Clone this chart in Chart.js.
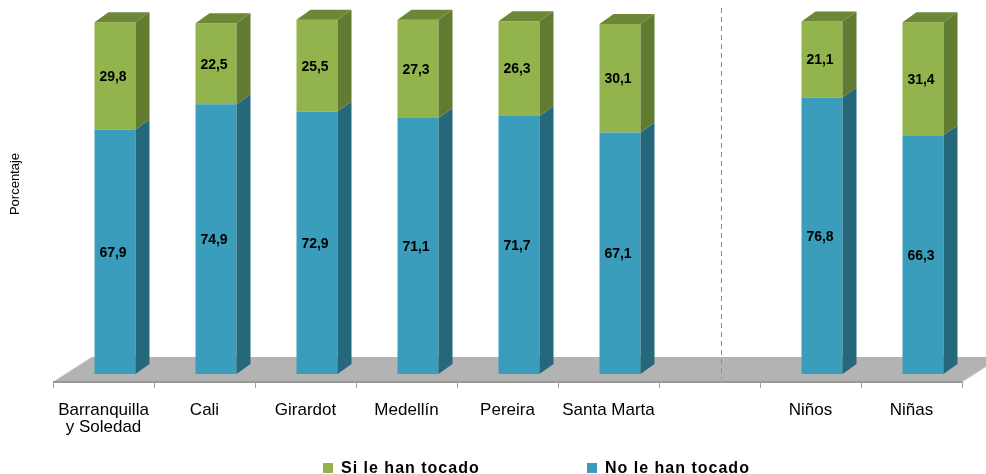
<!DOCTYPE html>
<html>
<head>
<meta charset="utf-8">
<script src="https://cdn.jsdelivr.net/npm/chart.js@4.4.1/dist/chart.umd.min.js"></script>
<style>
  body { margin: 0; background: #fff; }
  canvas { display: block; }
</style>
</head>
<body>
<canvas id="chart" width="986" height="474"></canvas>
<script>
// categories (the empty one is the gap before the dashed separator)
const labels = [['Barranquilla', 'y Soledad'], 'Cali', 'Girardot', 'Medellín', 'Pereira', 'Santa Marta', '', 'Niños', 'Niñas'];
const noTocado = [67.9, 74.9, 72.9, 71.1, 71.7, 67.1, null, 76.8, 66.3];
const siTocado = [29.8, 22.5, 25.5, 27.3, 26.3, 30.1, null, 21.1, 31.4];
const separatorIndex = 6;

const BLUE = '#3a9dbb', BLUE_SIDE = '#26687b';
const GREEN = '#93b44c', GREEN_SIDE = '#617b31', GREEN_TOP = '#6b8737';

// depth of a bar and of the floor (pixels)
const barDX = 14, barDY = 10;
const floorDX = 39, floorDY = 25;
const frontDX = -11.5, frontDY = 8;   // floor front edge relative to bar front

const fontFam = '"Liberation Sans", Arial, sans-serif';

function fmt(v) {
    return v.toFixed(1).replace('.', ',');
}

const threeD = {
    id: 'threeD',
    beforeDatasetsDraw(chart) {
        const ctx = chart.ctx;
        const area = chart.chartArea;
        const xs = chart.scales.x;
        const slot = xs.width / labels.length;
        const fy = area.bottom + frontDY;
        const fl = area.left + frontDX, fr = area.right + frontDX;
        ctx.save();
        // floor
        ctx.fillStyle = '#b3b3b3';
        ctx.beginPath();
        ctx.moveTo(fl, fy);
        ctx.lineTo(fr, fy);
        ctx.lineTo(fr + floorDX, fy - floorDY);
        ctx.lineTo(fl + floorDX, fy - floorDY);
        ctx.closePath();
        ctx.fill();
        ctx.strokeStyle = '#d0d0d0';
        ctx.lineWidth = 1;
        ctx.beginPath();
        ctx.moveTo(fl, fy);
        ctx.lineTo(fl + floorDX, fy - floorDY);
        ctx.moveTo(fr, fy);
        ctx.lineTo(fr + floorDX, fy - floorDY);
        ctx.stroke();
        ctx.strokeStyle = '#979797';
        ctx.lineWidth = 2;
        ctx.beginPath();
        ctx.moveTo(fl, fy);
        ctx.lineTo(fr, fy);
        ctx.stroke();
        // tick marks on the front edge
        ctx.strokeStyle = '#a0a0a0';
        ctx.lineWidth = 1;
        ctx.beginPath();
        for (let k = 0; k <= labels.length; k++) {
            const x = Math.round(xs.left + k * slot + frontDX) + 0.5;
            ctx.moveTo(x, fy);
            ctx.lineTo(x, fy + 6);
        }
        ctx.stroke();
        // dashed separator
        const sx = Math.round(xs.getPixelForValue(separatorIndex)) + 0.5;
        ctx.strokeStyle = '#8c8c8c';
        ctx.setLineDash([5, 4]);
        ctx.beginPath();
        ctx.moveTo(sx, area.top - 6);
        ctx.lineTo(sx, area.bottom + 5);
        ctx.stroke();
        ctx.restore();
    },
    afterDatasetsDraw(chart) {
        const ctx = chart.ctx;
        const sides = [BLUE_SIDE, GREEN_SIDE];
        const nSets = chart.data.datasets.length;
        ctx.save();
        chart.data.datasets.forEach((ds, di) => {
            const meta = chart.getDatasetMeta(di);
            meta.data.forEach((bar, i) => {
                if (ds.data[i] == null) return;
                const p = bar.getProps(['x', 'y', 'base', 'width'], true);
                const l = p.x - p.width / 2, r = p.x + p.width / 2;
                ctx.fillStyle = sides[di];
                ctx.beginPath();
                ctx.moveTo(r, p.y);
                ctx.lineTo(r + barDX, p.y - barDY);
                ctx.lineTo(r + barDX, p.base - barDY);
                ctx.lineTo(r, p.base);
                ctx.closePath();
                ctx.fill();
                if (di === nSets - 1) {
                    ctx.fillStyle = GREEN_TOP;
                    ctx.beginPath();
                    ctx.moveTo(l, p.y);
                    ctx.lineTo(r, p.y);
                    ctx.lineTo(r + barDX, p.y - barDY);
                    ctx.lineTo(l + barDX, p.y - barDY);
                    ctx.closePath();
                    ctx.fill();
                }
            });
        });
        // value labels
        ctx.fillStyle = '#000';
        ctx.font = 'bold 14px ' + fontFam;
        ctx.textAlign = 'center';
        ctx.textBaseline = 'middle';
        chart.data.datasets.forEach((ds, di) => {
            chart.getDatasetMeta(di).data.forEach((bar, i) => {
                const v = ds.data[i];
                if (v == null) return;
                const p = bar.getProps(['x', 'y', 'base'], true);
                ctx.fillText(fmt(v), p.x - 2, (p.y + p.base) / 2 + 1);
            });
        });
        ctx.restore();
    },
    afterDraw(chart) {
        const ctx = chart.ctx;
        ctx.save();
        // y title
        ctx.fillStyle = '#000';
        ctx.font = '13px ' + fontFam;
        ctx.translate(15, 184);
        ctx.rotate(-Math.PI / 2);
        ctx.textAlign = 'center';
        ctx.textBaseline = 'middle';
        ctx.fillText('Porcentaje', 0, 0);
        ctx.restore();
        // legend (Si first, then No)
        ctx.save();
        ctx.font = 'bold 16px ' + fontFam;
        ctx.letterSpacing = '1px';
        ctx.textBaseline = 'alphabetic';
        ctx.textAlign = 'left';
        const items = [chart.data.datasets[1], chart.data.datasets[0]];
        const boxX = [323, 587];
        items.forEach((ds, k) => {
            ctx.fillStyle = ds.backgroundColor;
            ctx.fillRect(boxX[k], 463, 10, 10);
            ctx.fillStyle = '#000';
            ctx.fillText(ds.label, boxX[k] + 18, 473);
        });
        ctx.restore();
    }
};

new Chart(document.getElementById('chart'), {
    type: 'bar',
    data: {
        labels: labels,
        datasets: [
            { label: 'No le han tocado', data: noTocado, backgroundColor: BLUE, categoryPercentage: 0.406, barPercentage: 1 },
            { label: 'Si le han tocado', data: siTocado, backgroundColor: GREEN, categoryPercentage: 0.406, barPercentage: 1 }
        ]
    },
    options: {
        responsive: false,
        animation: false,
        devicePixelRatio: 1,
        layout: { padding: { left: 64.5, right: 12.5, top: 14, bottom: 0 } },
        plugins: { legend: { display: false }, tooltip: { enabled: false } },
        scales: {
            x: {
                stacked: true,
                grid: { display: false, drawTicks: false },
                border: { display: false },
                ticks: {
                    color: '#000',
                    font: { family: fontFam, size: 17, lineHeight: 1.0 },
                    padding: 28,
                    labelOffset: frontDX,
                    maxRotation: 0,
                    autoSkip: false
                },
                afterFit(scale) { scale.height = 100; }
            },
            y: {
                stacked: true,
                display: false,
                min: 0,
                max: 100
            }
        }
    },
    plugins: [threeD]
});
</script>
</body>
</html>
